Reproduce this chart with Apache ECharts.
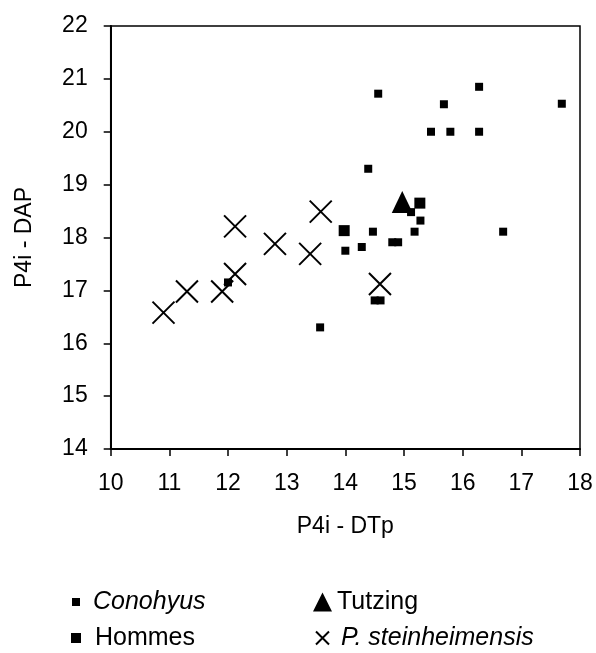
<!DOCTYPE html>
<html>
<head>
<meta charset="utf-8">
<script src="https://cdn.jsdelivr.net/npm/echarts@6/dist/echarts.min.js"></script>
<style>
html,body{margin:0;padding:0;background:#fff;}
#chart{width:596px;height:653px;}
</style>
</head>
<body>
<div id="chart"></div>
<script>
const xTicks = [10, 11, 12, 13, 14, 15, 16, 17, 18];
const yTicks = [14, 15, 16, 17, 18, 19, 20, 21, 22];

const conohyus = [
  [14.56, 20.72], [16.28, 20.85], [15.68, 20.52], [17.69, 20.53],
  [15.46, 20.0], [15.79, 20.0], [16.28, 20.0], [14.39, 19.3],
  [15.12, 18.48], [15.28, 18.32], [14.47, 18.11], [15.18, 18.11],
  [16.69, 18.11], [14.8, 17.91], [14.9, 17.91], [14.28, 17.82],
  [14.0, 17.75], [13.57, 16.3], [12.0, 17.15], [14.5, 16.81], [14.6, 16.81]
];
const hommes = [[13.98, 18.13], [15.27, 18.65]];
const tutzing = [[14.97, 18.67]];
const steinheimensis = [
  [10.9, 16.58], [11.3, 16.98], [11.9, 16.98], [12.12, 17.31], [12.12, 18.21],
  [12.8, 17.88], [13.4, 17.69], [13.58, 18.49], [14.59, 17.12]
];

const FONT = 'Liberation Sans';
const crossPath = 'path://M0,0L10,10M10,0L0,10';

const chart = echarts.init(document.getElementById('chart'), null, {renderer: 'canvas'});

function legendBox(name, left, centerY, icon, w, h, italic, gap) {
  return {
    data: [{name: name, icon: icon}],
    left: left,
    top: centerY - 15,
    orient: 'vertical',
    itemWidth: w,
    itemHeight: h,
    padding: 0,
    selectedMode: false,
    textStyle: {
      fontFamily: FONT, fontSize: 25, color: '#000',
      fontStyle: italic ? 'italic' : 'normal',
      lineHeight: 30, padding: [0, 0, 0, gap]
    }
  };
}

chart.setOption({
  animation: false,
  backgroundColor: '#fff',
  grid: {
    left: 110.7, right: 16, top: 26, bottom: 204,
    show: true, borderColor: '#000', borderWidth: 1.5, backgroundColor: 'transparent'
  },
  xAxis: {
    type: 'value', min: xTicks[0], max: xTicks[xTicks.length - 1], interval: 1,
    name: 'P4i - DTp', nameLocation: 'middle', nameGap: 66,
    nameTextStyle: {fontFamily: FONT, fontSize: 23, color: '#000'},
    axisLine: {show: true, onZero: false, lineStyle: {color: '#000', width: 2}},
    axisTick: {show: true, inside: false, length: 7, lineStyle: {color: '#000', width: 1.5}},
    axisLabel: {fontFamily: FONT, fontSize: 23, color: '#000', margin: 23},
    splitLine: {show: false}
  },
  yAxis: {
    type: 'value', min: yTicks[0], max: yTicks[yTicks.length - 1], interval: 1,
    name: 'P4i - DAP', nameLocation: 'middle', nameGap: 75, nameRotate: 90,
    nameTextStyle: {fontFamily: FONT, fontSize: 23, color: '#000'},
    axisLine: {show: true, onZero: false, lineStyle: {color: '#000', width: 2}},
    axisTick: {show: true, inside: false, length: 7, lineStyle: {color: '#000', width: 1.5}},
    axisLabel: {fontFamily: FONT, fontSize: 23, color: '#000', margin: 23},
    splitLine: {show: false}
  },
  legend: [
    legendBox('Conohyus', 72, 602, 'rect', 8, 8, true, 8),
    legendBox('Hommes', 71, 638, 'rect', 10, 10, false, 9),
    legendBox('Tutzing', 313, 602, 'triangle', 19, 19, false, 0),
    legendBox('P. steinheimensis', 315, 638, crossPath, 13, 13, true, 7)
  ],
  series: [
    {
      name: 'Conohyus', type: 'scatter', data: conohyus,
      symbol: 'rect', symbolSize: 8,
      itemStyle: {color: '#000', opacity: 1}
    },
    {
      name: 'Hommes', type: 'scatter', data: hommes,
      symbol: 'rect', symbolSize: 11,
      itemStyle: {color: '#000', opacity: 1}
    },
    {
      name: 'Tutzing', type: 'scatter', data: tutzing,
      symbol: 'triangle', symbolSize: [21, 22],
      itemStyle: {color: '#000', opacity: 1}
    },
    {
      name: 'P. steinheimensis', type: 'scatter', data: steinheimensis,
      symbol: crossPath, symbolSize: 22,
      itemStyle: {color: 'transparent', borderColor: '#000', borderWidth: 2, opacity: 1}
    }
  ]
});
</script>
</body>
</html>
